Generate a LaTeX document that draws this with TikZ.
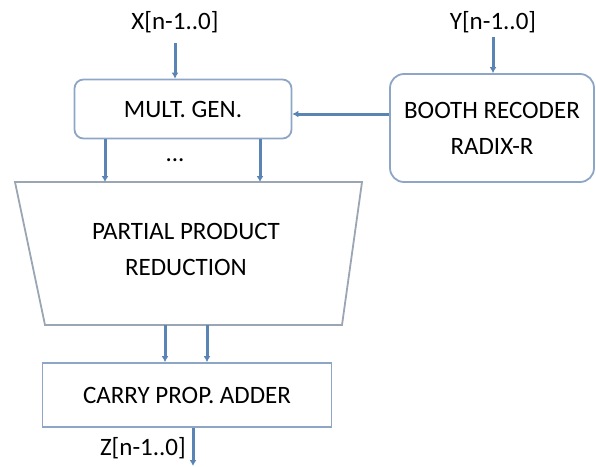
\documentclass[tikz,border=0pt]{standalone}
\usepackage{fontspec}
\setmainfont{Carlito}
\usetikzlibrary{arrows.meta}
\definecolor{wirecol}{HTML}{5A84B4}
\definecolor{edgecol}{HTML}{8EA6C6}
\definecolor{trapcol}{HTML}{9AA6B4}
\tikzset{
	blk/.style={draw=edgecol, line width=1.8pt, align=center, font=\fontsize{25}{36}\selectfont},
	rblk/.style={blk, rounded corners=9pt},
	lbl/.style={font=\fontsize{25}{30}\selectfont, inner sep=0pt},
	wire/.style={draw=wirecol, line width=3pt, -{Latex[length=6pt,width=7pt]}}
}
\begin{document}
\begin{tikzpicture}[x=1pt, y=-1pt]
					\useasboundingbox (0,0) rectangle (596,466);
					\draw
						(183,109) node[rblk, minimum width=217pt, minimum height=59pt] (mult) {MULT. GEN.}
						(492,128) node[rblk, minimum width=204pt, minimum height=108pt, rounded corners=14pt] (booth) {BOOTH RECODER\\RADIX-R}
						(187,395) node[blk, minimum width=289pt, minimum height=64pt] (cpa) {CARRY PROP. ADDER};

					\coordinate (pptl) at (15,182);
					\coordinate (pptr) at (362,182);
					\coordinate (ppbr) at (342,325);
					\coordinate (ppbl) at (45,325);
					\draw[draw=trapcol, line width=1.8pt] (pptl) -- (pptr) -- (ppbr) -- (ppbl) -- cycle;
					\node[blk, draw=none] (ppr) at (186,249) {PARTIAL PRODUCT\\REDUCTION};

					\node[lbl] (xin) at (175,22) {X[n-1..0]};
					\node[lbl] (yin) at (493,22) {Y[n-1..0]};
					\node[lbl, anchor=east] (zout) at (186,448) {Z[n-1..0]};
					\node[lbl] (dots) at (175,160) {...};
					\coordinate (zend) at (193,466);

					\draw[wire] ([yshift=-10]xin.south) -- (xin.south |- mult.north);
					\draw[wire] ([yshift=-4]yin.south) -- (yin.south |- booth.north);
					\draw[wire] (booth.west |- 0,114) -- (mult.east |- 0,114);

					\draw[wire] ([xshift=-78]mult.south) -- ([xshift=-78]mult.south |- pptl);
					\draw[wire] ([xshift=77]mult.south) -- ([xshift=77]mult.south |- pptl);

					\draw[wire] ([xshift=-22]cpa.north |- ppbl) -- ([xshift=-22]cpa.north);
					\draw[wire] ([xshift=20]cpa.north |- ppbl) -- ([xshift=20]cpa.north);

					\draw[wire] (cpa.south -| zend) -- (zend);
\end{tikzpicture}
\end{document}
